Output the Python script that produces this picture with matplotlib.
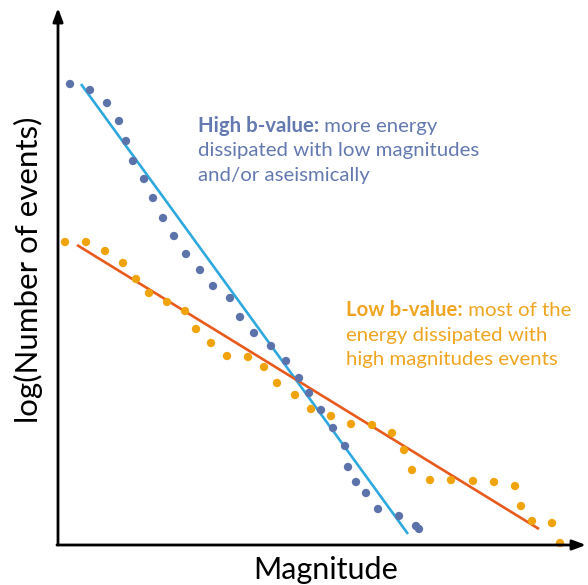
import matplotlib
matplotlib.use("Agg")
import matplotlib.pyplot as plt
import numpy as np

# ---- data (arbitrary units: magnitude vs log N) ----
high_mag = [0.24, 0.64, 0.98, 1.22, 1.36, 1.50, 1.72, 1.90, 2.10, 2.32, 2.56, 2.84, 3.10, 3.44,
            3.64, 3.92, 4.26, 4.56, 4.82, 5.02, 5.26, 5.50, 5.74, 5.80, 5.96, 6.16, 6.40, 6.82,
            7.16, 7.22]
high_logn = [9.22, 9.10, 8.84, 8.48, 8.08, 7.68, 7.32, 6.94, 6.54, 6.18, 5.82, 5.50, 5.18, 4.94,
             4.56, 4.24, 3.98, 3.68, 3.34, 3.04, 2.70, 2.34, 1.98, 1.56, 1.26, 1.04, 0.72, 0.58,
             0.38, 0.32]
high_fit_mag = [0.46, 7.00]
high_fit_logn = [9.22, 0.22]

low_mag = [0.14, 0.56, 0.94, 1.30, 1.56, 1.82, 2.18, 2.54, 2.76, 3.06, 3.38, 3.80, 4.12, 4.38,
           4.74, 5.06, 5.46, 5.86, 6.28, 6.68, 6.92, 7.08, 7.44, 7.86, 8.30, 8.72, 9.14, 9.26,
           9.48, 9.88, 10.04]
low_logn = [6.06, 6.06, 5.88, 5.64, 5.32, 5.04, 4.86, 4.68, 4.32, 4.04, 3.78, 3.76, 3.56, 3.24,
            3.00, 2.72, 2.58, 2.42, 2.40, 2.24, 1.90, 1.50, 1.30, 1.30, 1.28, 1.26, 1.18, 0.78,
            0.48, 0.44, 0.04]
low_fit_mag = [0.38, 9.62]
low_fit_logn = [6.00, 0.32]

x_label = "Magnitude"
y_label = "log(Number of events)"
high_title = "High b-value:"
high_lines = [" more energy", "dissipated with low magnitudes", "and/or aseismically"]
low_title = "Low b-value:"
low_lines = [" most of the", "energy dissipated with", "high magnitudes events"]

# ---- style ----
FONT = ["Lato", "DejaVu Sans"]
plt.rcParams["font.family"] = FONT
C_HDOT = "#5b72ab"
C_HLINE = "#2ea9e0"
C_LDOT = "#f0a30a"
C_LLINE = "#e85a1c"
C_HTXT = "#6379b0"
C_LTXT = "#f0a520"

W, H = 588, 585
fig = plt.figure(figsize=(W / 100, H / 100), dpi=100)
ax = fig.add_axes([58 / W, 40 / H, (586 - 58) / W, (545 - 8) / H])
ax.set_xlim(0, (586 - 58) / 50)
ax.set_ylim(0, (545 - 8) / 50)
for s in ax.spines.values():
    s.set_visible(False)
ax.set_xticks([])
ax.set_yticks([])

ax.plot(high_fit_mag, high_fit_logn, color=C_HLINE, lw=1.9, zorder=2, solid_capstyle="butt")
ax.plot(low_fit_mag, low_fit_logn, color=C_LLINE, lw=1.9, zorder=2, solid_capstyle="butt")
ax.scatter(high_mag, high_logn, s=36, color=C_HDOT, edgecolors="none", zorder=3, clip_on=False)
ax.scatter(low_mag, low_logn, s=36, color=C_LDOT, edgecolors="none", zorder=3, clip_on=False)

# axes arrows
arrow_kw = dict(arrowstyle="-|>,head_length=0.8,head_width=0.3", color="black", lw=2.0,
                shrinkA=0, shrinkB=0)
ax.annotate("", xy=(0, 1), xytext=(0, 0), xycoords="axes fraction",
            arrowprops=arrow_kw, annotation_clip=False, zorder=5)
ax.annotate("", xy=(1, 0), xytext=(-0.002, 0), xycoords="axes fraction",
            arrowprops=arrow_kw, annotation_clip=False, zorder=5)

fig.text(326 / W, 1 - 570 / H, x_label, fontsize=22, ha="center", va="center")
fig.text(28 / W, 1 - 270 / H, y_label, fontsize=22.5, ha="center", va="center", rotation=90)


def block(x, y, title, lines, color, fs=14.7, dy=24.5):
    t = fig.text(x / W, 1 - y / H, title, fontsize=fs, fontweight="bold", color=color,
                 ha="left", va="baseline")
    fig.canvas.draw()
    r = fig.canvas.get_renderer()
    bb = t.get_window_extent(r)
    fig.text(bb.x1 / W, 1 - y / H, lines[0], fontsize=fs, color=color, ha="left", va="baseline")
    for i, ln in enumerate(lines[1:], start=1):
        fig.text(x / W, 1 - (y + i * dy) / H, ln, fontsize=fs, color=color,
                 ha="left", va="baseline")


block(198, 132, high_title, high_lines, C_HTXT)
block(346, 316, low_title, low_lines, C_LTXT)

fig.savefig("out.png", dpi=100)
